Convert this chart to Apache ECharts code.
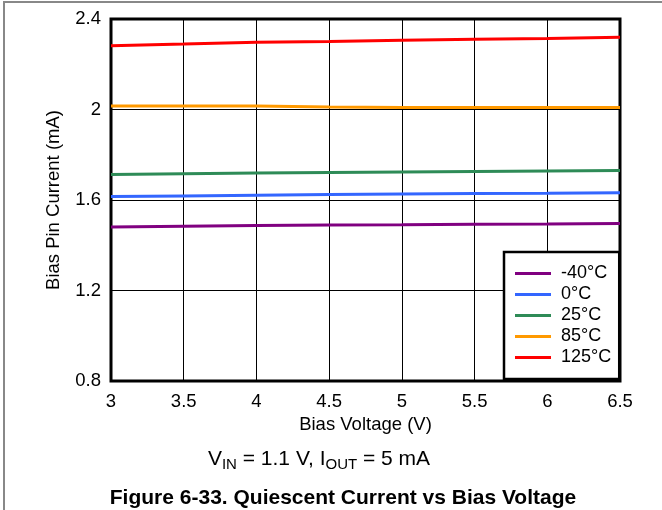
<!DOCTYPE html>
<html><head><meta charset="utf-8">
<script src="https://cdn.jsdelivr.net/npm/echarts@6/dist/echarts.min.js"></script>
<style>html,body{margin:0;padding:0;background:#fff}#c{width:662px;height:510px}</style>
</head><body><div id="c"></div>
<script>
const xValues = [3, 3.5, 4, 4.5, 5, 5.5, 6, 6.5];
const seriesNames = ['-40°C', '0°C', '25°C', '85°C', '125°C'];
const seriesColors = ['#800080', '#3366ff', '#2e8b57', '#ff9900', '#ff0000'];
const tempM40 = [1.481, 1.484, 1.487, 1.490, 1.491, 1.493, 1.494, 1.496];
const temp0   = [1.615, 1.618, 1.621, 1.624, 1.627, 1.629, 1.630, 1.632];
const temp25  = [1.713, 1.716, 1.719, 1.722, 1.724, 1.726, 1.728, 1.730];
const temp85  = [2.016, 2.016, 2.016, 2.011, 2.009, 2.009, 2.009, 2.009];
const temp125 = [2.282, 2.289, 2.297, 2.301, 2.306, 2.310, 2.314, 2.319];
const allData = [tempM40, temp0, temp25, temp85, temp125];

const FONT = '"Liberation Sans", Arial, sans-serif';
const chart = echarts.init(document.getElementById('c'), null, {renderer: 'canvas'});
chart.setOption({
  animation: false,
  backgroundColor: '#fff',
  textStyle: {fontFamily: FONT, color: '#000'},
  grid: {left: 111, right: 42, top: 19, bottom: 129, show: true, borderColor: '#000', borderWidth: 3, containLabel: false},
  xAxis: {
    type: 'value', min: 3, max: 6.5, interval: 0.5,
    name: 'Bias Voltage (V)', nameLocation: 'middle', nameGap: 33,
    nameTextStyle: {fontSize: 18.5, color: '#000', fontFamily: FONT},
    axisLine: {show: false}, axisTick: {show: false},
    axisLabel: {fontSize: 18.5, color: '#000', margin: 11, fontFamily: FONT, showMinLabel: true, showMaxLabel: true},
    splitLine: {show: true, lineStyle: {color: '#000', width: 1}}
  },
  yAxis: {
    type: 'value', min: 0.8, max: 2.4, interval: 0.4,
    name: 'Bias Pin Current (mA)', nameLocation: 'middle', nameGap: 48,
    nameTextStyle: {fontSize: 18.5, color: '#000', fontFamily: FONT},
    axisLine: {show: false}, axisTick: {show: false},
    axisLabel: {fontSize: 18.5, color: '#000', margin: 10, fontFamily: FONT,
      formatter: v => (Math.round(v * 10) / 10).toString()},
    splitLine: {show: true, lineStyle: {color: '#000', width: 1}}
  },
  legend: {
    orient: 'vertical', left: 504, top: 252,
    data: seriesNames,
    backgroundColor: '#fff', borderColor: '#000', borderWidth: 2.5,
    padding: [11, 8, 11, 11],
    itemWidth: 36, itemHeight: 3, itemGap: 0, icon: 'rect',
    textStyle: {fontSize: 18, color: '#000', fontFamily: FONT, lineHeight: 21, padding: [0, 0, 0, 5]}
  },
  title: [{
    text: '{n|V}{s|IN}{n| = 1.1 V, I}{s|OUT}{n| = 5 mA}',
    left: 314, top: 441, textAlign: 'center',
    textStyle: {fontWeight: 'normal', rich: {
      n: {fontSize: 21, fontWeight: 'normal', fontFamily: FONT, color: '#000', lineHeight: 26, verticalAlign: 'middle'},
      s: {fontSize: 15, fontWeight: 'normal', fontFamily: FONT, color: '#000', lineHeight: 26, verticalAlign: 'bottom', padding: [9, 0, 0, 0]}
    }}
  }, {
    text: 'Figure 6-33. Quiescent Current vs Bias Voltage',
    left: 338, top: 483, textAlign: 'center',
    textStyle: {fontSize: 21, fontWeight: 'bold', fontFamily: FONT, color: '#000'}
  }],
  graphic: [
    {type: 'line', shape: {x1: 3, y1: 2, x2: 662, y2: 2}, style: {stroke: '#888', lineWidth: 2}, silent: true},
    {type: 'line', shape: {x1: 4, y1: 2, x2: 4, y2: 510}, style: {stroke: '#888', lineWidth: 2}, silent: true}
  ],
  series: seriesNames.map((name, i) => ({
    name: name, type: 'line', showSymbol: false, symbol: 'none',
    data: xValues.map((x, j) => [x, allData[i][j]]),
    lineStyle: {color: seriesColors[i], width: 3},
    itemStyle: {color: seriesColors[i]},
    z: 3
  }))
});
</script></body></html>
